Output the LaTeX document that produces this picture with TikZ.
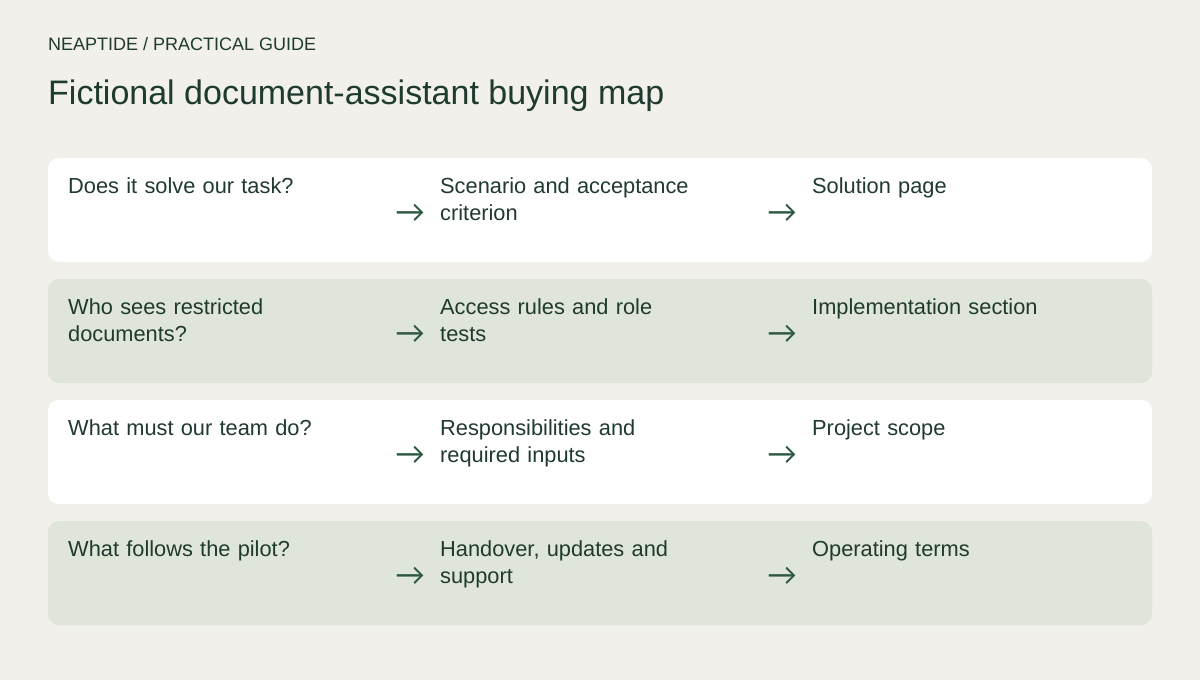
\documentclass[tikz,border=0pt]{standalone}
\usepackage{fontspec}
\setmainfont{Liberation Sans}
\newfontfamily\arrowfont{Lato}
\definecolor{paper}{HTML}{F1F0EB}
\definecolor{ink}{HTML}{1F3A2E}
\definecolor{arrowink}{HTML}{2C5843}
\definecolor{sage}{HTML}{DFE5D8}
\tikzset{
  rowbox/.style={rounded corners=11pt,draw=none,minimum width=1104pt,minimum height=104pt,inner sep=0pt},
  celltext/.style={anchor=base west,inner sep=0pt,text=ink,text width=340pt,align=left,
    font=\fontsize{21.8}{27.5}\selectfont},
  arrowmark/.style={anchor=base west,inner sep=0pt,text=arrowink,font=\arrowfont\fontsize{30}{30}\selectfont},
}
\begin{document}
\begin{tikzpicture}[x=1pt,y=-1pt]
        \useasboundingbox[fill=paper] (0,0) rectangle (1200,680);
        % heading
        \node[anchor=base west,inner sep=0pt,text=ink,font=\fontsize{18}{22}\selectfont] (kicker) at (48,50.5) {NEAPTIDE / PRACTICAL GUIDE};
        \node[anchor=base west,inner sep=0pt,text=ink,font=\fontsize{34}{40}\selectfont] (title) at (48,104) {Fictional document-assistant buying map};
        % rows
        \foreach \ask/\proof/\page/\shade [count=\i] in {
            {Does it solve our task?}/{Scenario and acceptance\\criterion}/{Solution page}/white,
            {Who sees restricted\\documents?}/{Access rules and role\\tests}/{Implementation section}/sage,
            {What must our team do?}/{Responsibilities and\\required inputs}/{Project scope}/white,
            {What follows the pilot?}/{Handover, updates and\\support}/{Operating terms}/sage}
        {
          \pgfmathsetmacro\top{158+(\i-1)*121}
          \node[rowbox,fill=\shade] (row\i) at (600,\top+52) {};
          \node[celltext] (ask\i) at (68,\top+35) {\ask};
          \node[arrowmark] (to\i a) at (395,\top+64) {→};
          \node[celltext] (proof\i) at (440,\top+35) {\proof};
          \node[arrowmark] (to\i b) at (767,\top+64) {→};
          \node[celltext] (page\i) at (812,\top+35) {\page};
        }
      \end{tikzpicture}
\end{document}
